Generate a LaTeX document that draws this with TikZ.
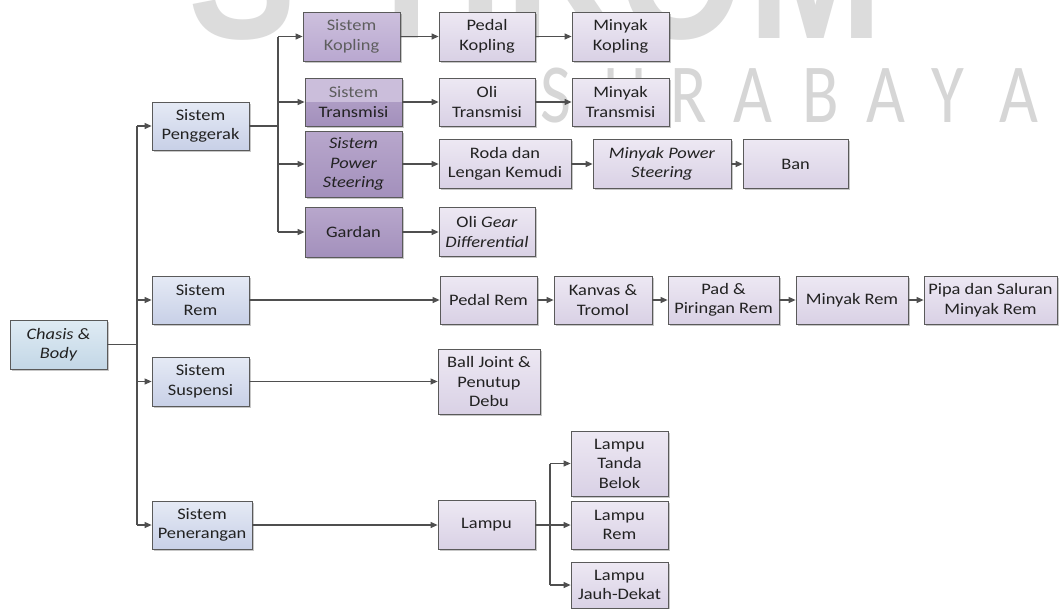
\documentclass[tikz,border=0pt]{standalone}
\usepackage{fontspec}
\setmainfont{Carlito}[FakeStretch=1.15]
\newfontfamily\wmbold{Liberation Sans}[FakeStretch=0.85]
\newfontfamily\wmthin{Carlito}[FakeStretch=0.8]
\usetikzlibrary{arrows.meta,shadows}
\definecolor{boxline}{HTML}{5A5A5A}
\definecolor{lncol}{HTML}{4F4F4F}
\definecolor{txt}{HTML}{222222}
\definecolor{txtlight}{HTML}{5E5E5E}
\definecolor{rootA}{HTML}{DFEBF4}
\definecolor{rootB}{HTML}{C3D7E6}
\definecolor{sysA}{HTML}{E5EAF5}
\definecolor{sysB}{HTML}{C8D0E7}
\definecolor{leafA}{HTML}{EDE8F3}
\definecolor{leafB}{HTML}{D9D1E5}
\definecolor{kopA}{HTML}{CDC0DD}
\definecolor{kopB}{HTML}{B9A8D0}
\definecolor{subA}{HTML}{B8A7CC}
\definecolor{subB}{HTML}{A390BC}
\definecolor{transTop}{HTML}{CBBEDB}
\definecolor{wmgray}{HTML}{DCDCDC}
\definecolor{wmgray2}{HTML}{D6D6D6}
\begin{document}
\begin{tikzpicture}[x=1pt,y=-1pt,
  box/.style={draw=boxline, line width=0.8pt, align=center, inner sep=1pt,
    font=\fontsize{16}{19.5}\selectfont, text=txt,
    drop shadow={shadow xshift=1.5pt, shadow yshift=-1.5pt, opacity=0.22, fill=black}},
  sz/.style 2 args={minimum width=#1pt, minimum height=#2pt},
  root/.style={box, top color=rootA, bottom color=rootB},
  sys/.style={box, top color=sysA, bottom color=sysB},
  kopbox/.style={box, top color=kopA, bottom color=kopB},
  sub/.style={box, top color=subA, bottom color=subB},
  leaf/.style={box, top color=leafA, bottom color=leafB},
  ln/.style={draw=lncol, line width=1.1pt},
  ar/.style={ln, -{Triangle[length=7pt,width=6pt]}},
  wmbig/.style={anchor=base west, inner sep=0pt, text=wmgray,
    font=\wmbold\bfseries\fontsize{190}{190}\selectfont},
  wmsmall/.style={anchor=base west, inner sep=0pt, text=wmgray2,
    font=\wmthin\fontsize{84}{84}\selectfont}
]
\useasboundingbox (0,0) rectangle (1059,608);
\fill[white] (0,0) rectangle (1059,608);

% watermark
\begin{scope}
\clip (0,0) rectangle (1059,608);
\node[wmbig] (wmS) at (188,38) {S};
\node[wmbig] (wmT) at (357,38) {T};
\node[wmbig] (wmI) at (458,38) {I};
\node[wmbig] (wmK) at (505,38) {K};
\node[wmbig] (wmO) at (618,38) {O};
\node[wmbig] (wmM) at (748,38) {M};
\foreach \px/\lt [count=\i] in {540/S,603/U,670/R,733/A,802/B,866/A,931/Y,999/A}
  \node[wmsmall] (wl\i) at (\px,122) {\lt};
\end{scope}

% nodes
\node[root, sz={97}{49}] (chasis) at (58.5,344.5) {\itshape Chasis \&\\\itshape Body};

\node[sys, sz={97}{48}] (peng) at (200.5,126) {Sistem\\Penggerak};
\node[sys, sz={97}{48}] (rem) at (200.5,300) {Sistem\\Rem};
\node[sys, sz={97}{49}] (susp) at (200.5,381.5) {Sistem\\Suspensi};
\node[sys, sz={100}{48}] (pener) at (202,525) {Sistem\\Penerangan};

\node[kopbox, sz={97}{49}] (kop) at (351.5,36.5) {\textcolor{txtlight}{Sistem}\\\textcolor{txtlight}{Kopling}};
\node[sub, sz={97}{48},
  path picture={\fill[transTop] (path picture bounding box.north west) rectangle (path picture bounding box.east);}]
  (trans) at (353.5,102) {\textcolor{txtlight}{Sistem}\\Transmisi};
\node[sub, sz={97}{66}] (pws) at (353.5,164) {\itshape Sistem\\\itshape Power\\\itshape Steering};
\node[sub, sz={97}{50}] (gar) at (353.5,232) {Gardan};

\node[leaf, sz={96}{49}] (pkop) at (487,36.5) {Pedal\\Kopling};
\node[leaf, sz={97}{49}] (mkop) at (620.5,36.5) {Minyak\\Kopling};
\node[leaf, sz={96}{48}] (otr) at (487,102) {Oli\\Transmisi};
\node[leaf, sz={97}{48}] (mtr) at (620.5,102) {Minyak\\Transmisi};
\node[leaf, sz={132}{49}] (roda) at (505,164) {Roda dan\\Lengan Kemudi};
\node[leaf, sz={138}{49}] (mps) at (662,164) {\itshape Minyak Power\\\itshape Steering};
\node[leaf, sz={105}{49}] (ban) at (795.5,164) {Ban};
\node[leaf, sz={96}{49}] (ogear) at (487,232) {Oli \textit{Gear}\\\textit{Differential}};

\node[leaf, sz={97}{48}] (prem) at (488.5,300) {Pedal Rem};
\node[leaf, sz={98}{48}] (kanv) at (603,300) {Kanvas \&\\Tromol};
\node[leaf, sz={111}{48}] (pad) at (723.5,300) {Pad \&\\Piringan Rem};
\node[leaf, sz={112}{48}] (mrem) at (852,300) {Minyak Rem};
\node[leaf, sz={133}{48}] (pipa) at (990.5,300) {Pipa dan Saluran\\Minyak Rem};

\node[leaf, sz={102}{65}] (ball) at (489,381.5) {Ball Joint \&\\Penutup\\Debu};

\node[leaf, sz={97}{49}] (lampu) at (486.5,525) {Lampu};
\node[leaf, sz={97}{65}] (tanda) at (619.5,463.5) {Lampu\\Tanda\\Belok};
\node[leaf, sz={97}{48}] (lrem) at (619.5,525) {Lampu\\Rem};
\node[leaf, sz={97}{46}] (jauh) at (619.5,585) {Lampu\\Jauh-Dekat};

% connectors
\coordinate (tr) at (137,126);
\coordinate (b2) at (278,126);
\coordinate (b3) at (550,525);

\draw[ln] (chasis.east) -- (chasis.east -| tr);
\draw[ln] (tr) -- (pener.west -| tr);
\draw[ar] (tr) -- (peng.west);
\draw[ar] (rem.west -| tr) -- (rem.west);
\draw[ar] (susp.west -| tr) -- (susp.west);
\draw[ar] (pener.west -| tr) -- (pener.west);

\draw[ln] (peng.east) -- (b2);
\draw[ln] (kop.west -| b2) -- (gar.west -| b2);
\draw[ar] (kop.west -| b2) -- (kop.west);
\draw[ar] (trans.west -| b2) -- (trans.west);
\draw[ar] (pws.west -| b2) -- (pws.west);
\draw[ar] (gar.west -| b2) -- (gar.west);

\draw[ar] (kop.east) -- (pkop.west);
\draw[ar] (pkop.east) -- (mkop.west);
\draw[ar] (trans.east) -- (otr.west);
\draw[ar] (otr.east) -- (mtr.west);
\draw[ar] (pws.east) -- (roda.west);
\draw[ar] (roda.east) -- (mps.west);
\draw[ar] (mps.east) -- (ban.west);
\draw[ar] (gar.east) -- (ogear.west);

\draw[ar] (rem.east) -- (prem.west);
\draw[ar] (prem.east) -- (kanv.west);
\draw[ar] (kanv.east) -- (pad.west);
\draw[ar] (pad.east) -- (mrem.west);
\draw[ar] (mrem.east) -- (pipa.west);

\draw[ar] (susp.east) -- (ball.west);

\draw[ar] (pener.east) -- (lampu.west);
\draw[ln] (lampu.east) -- (b3);
\draw[ln] (tanda.west -| b3) -- (jauh.west -| b3);
\draw[ar] (tanda.west -| b3) -- (tanda.west);
\draw[ar] (b3) -- (lrem.west);
\draw[ar] (jauh.west -| b3) -- (jauh.west);
\end{tikzpicture}
\end{document}
